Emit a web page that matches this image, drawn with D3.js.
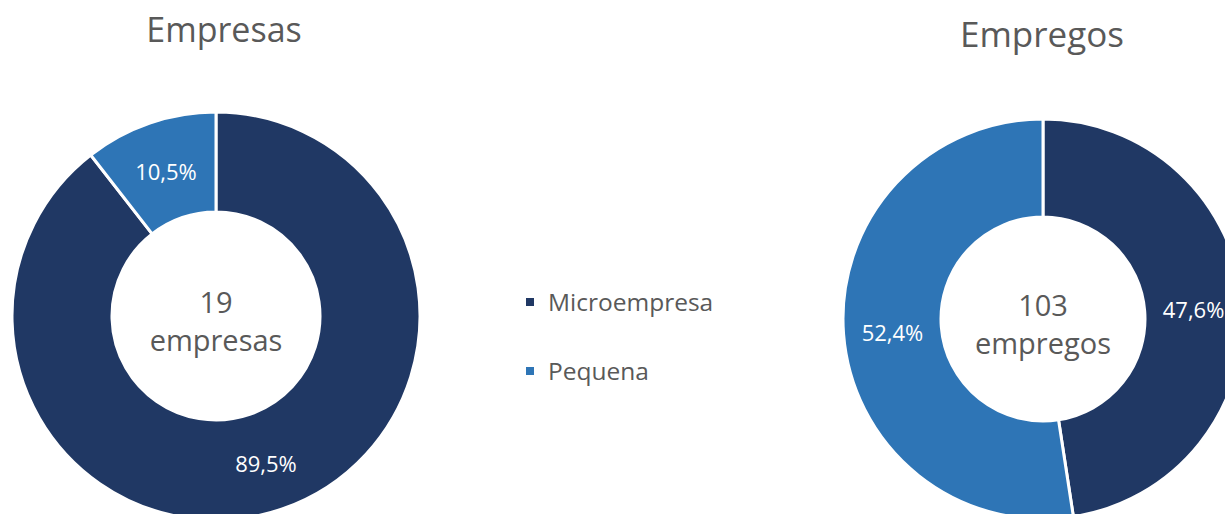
<!DOCTYPE html>
<html>
<head>
<meta charset="utf-8">
<script src="https://cdn.jsdelivr.net/npm/d3@7"></script>
<style>
  html, body { margin: 0; padding: 0; background: #ffffff; }
  svg { display: block; font-family: "Open Sans", "Noto Sans", sans-serif; }
</style>
</head>
<body>
<svg id="chart" width="1225" height="514"></svg>
<script>
const categories = ["Microempresa", "Pequena"];
const empresasValues = [17, 2];
const empregosValues = [49, 54];
const empresasLabels = ["89,5%", "10,5%"];
const empregosLabels = ["47,6%", "52,4%"];
const chartTitles = ["Empresas", "Empregos"];
const centerNumbers = ["19", "103"];
const centerUnits = ["empresas", "empregos"];
const colors = ["#203864", "#2E75B6"];

const svg = d3.select("#chart");
const color = d3.scaleOrdinal().domain(categories).range(colors);
const pie = d3.pie().sort(null).value(d => d.value);

const charts = [
  { values: empresasValues, labels: empresasLabels, title: chartTitles[0], num: centerNumbers[0], unit: centerUnits[0],
    cx: 216, cy: 316, rOuter: 204, rInner: 104, titleX: 224, titleY: 42, titleSize: 34 },
  { values: empregosValues, labels: empregosLabels, title: chartTitles[1], num: centerNumbers[1], unit: centerUnits[1],
    cx: 1043, cy: 319, rOuter: 200, rInner: 102, titleX: 1042, titleY: 47, titleSize: 35 }
];

charts.forEach(c => {
  const data = categories.map((k, i) => ({ key: k, value: c.values[i], label: c.labels[i] }));
  const arcs = pie(data);
  const arc = d3.arc().innerRadius(c.rInner).outerRadius(c.rOuter);
  const labelArc = d3.arc().innerRadius((c.rInner + c.rOuter) / 2).outerRadius((c.rInner + c.rOuter) / 2);
  const g = svg.append("g").attr("transform", `translate(${c.cx},${c.cy})`);
  g.selectAll("path").data(arcs).join("path")
    .attr("d", arc)
    .attr("fill", d => color(d.data.key))
    .attr("stroke", "#ffffff")
    .attr("stroke-width", 3)
    .attr("stroke-linejoin", "miter");
  g.selectAll("text.lbl").data(arcs).join("text")
    .attr("class", "lbl")
    .attr("transform", d => `translate(${labelArc.centroid(d)})`)
    .attr("text-anchor", "middle")
    .attr("dy", "0.46em")
    .attr("fill", "#ffffff")
    .attr("font-size", 22)
    .text(d => d.data.label);
  g.append("text").attr("text-anchor", "middle").attr("y", -3)
    .attr("fill", "#595959").attr("font-size", 29).text(c.num);
  g.append("text").attr("text-anchor", "middle").attr("y", 35)
    .attr("fill", "#595959").attr("font-size", 29).text(c.unit);
  svg.append("text").attr("x", c.titleX).attr("y", c.titleY)
    .attr("text-anchor", "middle").attr("fill", "#595959")
    .attr("font-size", c.titleSize).text(c.title);
});

const legend = svg.append("g").attr("transform", "translate(526,298)");
const items = legend.selectAll("g").data(categories).join("g")
  .attr("transform", (d, i) => `translate(0,${i * 69})`);
items.append("rect").attr("width", 8).attr("height", 8).attr("fill", d => color(d));
items.append("text").attr("x", 22).attr("y", 13)
  .attr("fill", "#595959").attr("font-size", 24.5).text(d => d);
</script>
</body>
</html>
